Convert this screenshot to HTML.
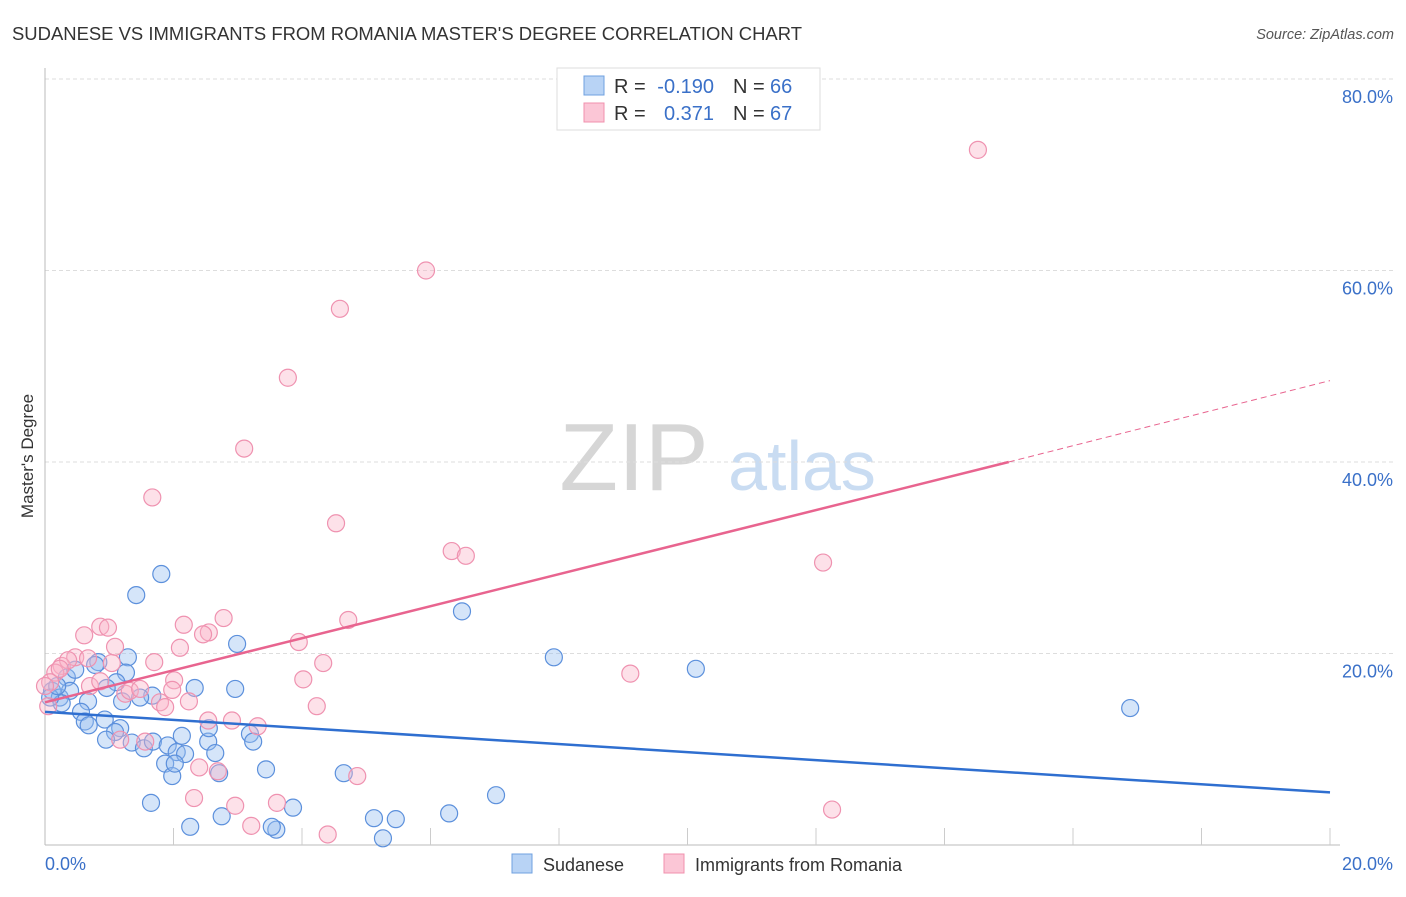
<!DOCTYPE html>
<html><head><meta charset="utf-8"><style>
body{margin:0;background:#fff;font-family:"Liberation Sans",sans-serif;}
svg text{font-family:"Liberation Sans",sans-serif;}
</style></head><body>
<svg id="chart" width="1406" height="892" viewBox="0 0 1406 892" xmlns="http://www.w3.org/2000/svg">
<text x="12" y="40" font-size="18" fill="#333" textLength="790" lengthAdjust="spacingAndGlyphs">SUDANESE VS IMMIGRANTS FROM ROMANIA MASTER'S DEGREE CORRELATION CHART</text>
<text x="1394" y="39" font-size="14.5" fill="#555" font-style="italic" text-anchor="end">Source: ZipAtlas.com</text>
<text transform="translate(33,456) rotate(-90)" font-size="17" fill="#333" text-anchor="middle">Master's Degree</text>
<g>
<text x="634" y="490" font-size="96" fill="#d6d6d6" font-family="Liberation Serif, serif" text-anchor="middle">ZIP</text>
<text x="802" y="490" font-size="70" fill="#c9dcf2" text-anchor="middle">atlas</text>
</g>
<g id="grid"></g>
<g id="axes"></g>
<g id="marks"></g>
<g id="trends"></g>
<g>
<rect x="557" y="68" width="263" height="62" fill="#fff" stroke="#ddd"/>
<rect x="584" y="76" width="20" height="19" fill="#b8d3f5" stroke="#6fa0e0"/>
<rect x="584" y="103" width="20" height="19" fill="#fbc6d6" stroke="#f090ad"/>
<text x="614" y="93" font-size="20" fill="#333">R =</text>
<text x="714" y="93" font-size="20" fill="#3a70c8" text-anchor="end">-0.190</text>
<text x="733" y="93" font-size="20" fill="#333">N =</text>
<text x="770" y="93" font-size="20" fill="#3a70c8">66</text>
<text x="614" y="120" font-size="20" fill="#333">R =</text>
<text x="714" y="120" font-size="20" fill="#3a70c8" text-anchor="end">0.371</text>
<text x="733" y="120" font-size="20" fill="#333">N =</text>
<text x="770" y="120" font-size="20" fill="#3a70c8">67</text>
</g>
<g>
<rect x="512" y="854" width="20" height="19" fill="#b8d3f5" stroke="#6fa0e0"/>
<text x="543" y="871" font-size="18" fill="#333">Sudanese</text>
<rect x="664" y="854" width="20" height="19" fill="#fbc6d6" stroke="#f090ad"/>
<text x="695" y="871" font-size="18" fill="#333">Immigrants from Romania</text>
</g>
</svg>
<script>
const xTicks=[0,20];
const yTicks=[20,40,60,80];
const blueX=[1.81,1.42,6.49,7.92,10.13,16.89,2.99,1.29,0.83,0.78,0.34,0.47,0.11,0.23,0.39,1.26,1.11,0.96,0.67,1.67,2.33,2.96,1.20,1.48,0.56,0.62,0.68,0.93,1.17,1.09,0.95,1.35,1.54,1.68,1.91,2.13,2.05,2.18,1.87,1.98,2.02,2.54,2.65,2.71,3.19,3.24,3.44,4.65,1.65,2.26,2.75,3.60,3.53,3.86,5.12,5.46,5.26,6.29,7.02,2.55,0.26,0.08,0.19];
const blueY=[28.3,26.1,24.4,19.6,18.4,14.3,21.0,19.6,19.1,18.8,17.5,18.3,16.1,15.4,16.1,18.0,17.0,16.4,15.0,15.6,16.4,16.3,15.0,15.4,13.9,12.9,12.5,13.1,12.2,11.8,11.0,10.7,10.1,10.8,10.4,11.4,9.7,9.5,8.5,7.2,8.5,10.8,9.6,7.5,11.6,10.8,7.9,7.5,4.4,1.9,3.0,1.6,1.9,3.9,2.8,2.7,0.7,3.3,5.2,12.2,14.8,15.4,16.6];
const pinkX=[14.52,5.93,4.59,3.78,3.10,1.67,4.53,6.33,6.55,12.11,4.72,9.11,2.78,2.16,2.55,2.46,0.86,0.98,0.61,1.09,2.10,1.70,3.95,4.33,4.02,4.23,4.86,2.91,2.54,3.31,0.47,0.67,0.26,0.16,0.08,0.70,0.86,1.25,1.32,1.79,1.87,2.01,1.98,2.24,1.17,1.56,2.40,2.69,2.32,2.96,3.21,3.61,4.40,12.25,0.05,0.0,0.36,1.04,1.48,0.23];
const pinkY=[72.6,60.0,56.0,48.8,41.4,36.3,33.6,30.7,30.2,29.5,23.5,17.9,23.7,23.0,22.2,22.0,22.8,22.7,21.9,20.7,20.6,19.1,21.2,19.0,17.3,14.5,7.2,13.0,13.0,12.4,19.6,19.5,18.7,18.0,17.0,16.6,17.1,15.8,16.1,14.9,14.4,17.2,16.2,15.0,11.0,10.8,8.1,7.7,4.9,4.1,2.0,4.4,1.1,3.7,14.5,16.6,19.3,19.0,16.3,18.4];
const trendBlue=[13.9,5.5];
const trendPink=[14.9,40.0,48.5];
const X0=45,X1=1330,Y0=845,Y80=79;
const sx=v=>X0+(v-xTicks[0])/(xTicks[1]-xTicks[0])*(X1-X0);
const sy=v=>Y0-v/80*(Y0-Y80);
const NS="http://www.w3.org/2000/svg";
function mk(tag,attrs,parent){const e=document.createElementNS(NS,tag);for(const k in attrs)e.setAttribute(k,attrs[k]);document.getElementById(parent).appendChild(e);return e;}
yTicks.forEach(t=>{
 const l=mk('line',{x1:X0,x2:1394,y1:sy(t),y2:sy(t),stroke:'#ddd','stroke-dasharray':'4,3'},'grid');
 
 
 const tx=mk('text',{x:1393,y:sy(t)+24,'font-size':18,fill:'#3a70c8','text-anchor':'end'},'grid');
 tx.textContent=t.toFixed(1)+'%';
 
 
});
const ax=mk('line',{x1:X0,x2:X0,y1:68,y2:Y0,stroke:'#bbb'},'axes');


const bx=mk('line',{x1:X0,x2:X1+10,y1:Y0,y2:Y0,stroke:'#bbb'},'axes');


for(let i=1;i<=10;i++){const x=X0+i*(X1-X0)/10;const t=mk('line',{x1:x,x2:x,y1:828,y2:Y0,stroke:'#ccc'},'axes');
 
 }
xTicks.forEach((t,i)=>{const tx=mk('text',{x:i?1393:45,y:870,'font-size':18,fill:'#3a70c8','text-anchor':i?'end':'start'},'axes');
 tx.textContent=t.toFixed(1)+'%';
 
 });
blueX.forEach((v,i)=>{const c=mk('circle',{cx:sx(v),cy:sy(blueY[i]),r:8.5,fill:'rgba(150,190,240,0.4)',stroke:'#5c90dc','stroke-width':1.2},'marks');
 
 });
pinkX.forEach((v,i)=>{const c=mk('circle',{cx:sx(v),cy:sy(pinkY[i]),r:8.5,fill:'rgba(250,180,200,0.4)',stroke:'#ef92b0','stroke-width':1.2},'marks');
 
 });
const tb=mk('line',{x1:sx(0),y1:sy(trendBlue[0]),x2:sx(20),y2:sy(trendBlue[1]),stroke:'#2f6fd0','stroke-width':2.5},'trends');


const tp=mk('line',{x1:sx(0),y1:sy(trendPink[0]),x2:sx(15),y2:sy(trendPink[1]),stroke:'#e8648f','stroke-width':2.5},'trends');


const td=mk('line',{x1:sx(15),y1:sy(trendPink[1]),x2:sx(20),y2:sy(trendPink[2]),stroke:'#e8648f','stroke-width':1,'stroke-dasharray':'6,4'},'trends');


</script>
</body></html>
